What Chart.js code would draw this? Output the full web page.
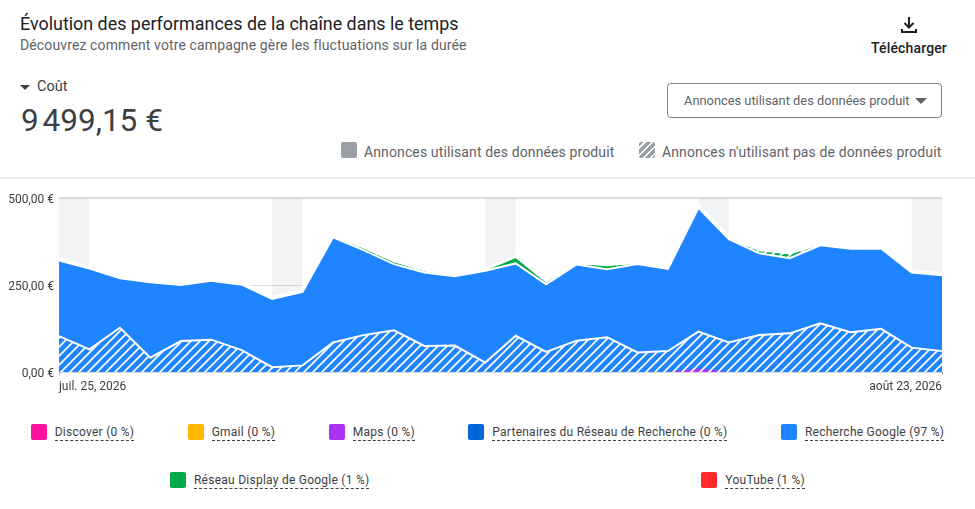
<!DOCTYPE html>
<html lang="fr">
<head>
<meta charset="utf-8">
<title>Évolution des performances</title>
<script src="https://cdn.jsdelivr.net/npm/chart.js@4"></script>
<style>
    html, body { margin: 0; padding: 0; background: #fff; }
    body { position: relative; width: 975px; height: 509px; overflow: hidden; font-family: Roboto, sans-serif; color: #3c4043; }
    .abs { position: absolute; white-space: nowrap; }
    #title { left: 20px; top: 12px; font-size: 17.9px; line-height: 24px; color: #202124; }
    #subtitle { left: 20px; top: 36px; font-size: 14px; line-height: 18px; color: #5f6368; letter-spacing: .12px; }
    #download { left: 860px; top: 15px; width: 98px; text-align: center; }
    #download svg { display: block; margin: 0 auto; }
    #download span { display: block; margin-top: 4px; font-size: 14px; font-weight: 500; line-height: 18px; color: #202124; letter-spacing: .15px; }
    #metricName { left: 37px; top: 78px; font-size: 14.5px; line-height: 18px; color: #3c4043; }
    #metricArrow { left: 20px; top: 85px; width: 0; height: 0; border-left: 5px solid transparent; border-right: 5px solid transparent; border-top: 5px solid #3c4043; }
    #metricValue { left: 21px; top: 100px; font-size: 31.5px; line-height: 42px; color: #3c4043; }
    #dropdown { left: 667px; top: 83px; width: 273px; height: 33px; border: 1px solid #80868b; border-radius: 4px; font-size: 12.85px; line-height: 33px; color: #5f6368; }
    #dropdown span { position: absolute; left: 16px; }
    #dropdown i { position: absolute; left: 247px; top: 14px; width: 0; height: 0; border-left: 6px solid transparent; border-right: 6px solid transparent; border-top: 6px solid #5f6368; }
    .productKey { top: 143px; font-size: 14px; line-height: 18px; color: #5f6368; letter-spacing: .12px; }
    .productKey b { position: absolute; left: -23px; top: -1px; width: 16px; height: 16px; border-radius: 2px; background: #9aa0a6; }
    .productKey b.hatched { background: repeating-linear-gradient(135deg, #9aa0a6 0 3.5px, #fff 3.5px 5px); }
    #divider { left: 0; top: 177px; width: 975px; height: 2px; background: #e8eaed; }
    #chartWrap { left: 0; top: 190px; width: 975px; height: 210px; }
    .legendRow { position: absolute; left: 4px; width: 967px; display: flex; justify-content: space-around; }
    .legendItem { display: flex; align-items: center; font-size: 12px; color: #3c4043; letter-spacing: .25px; white-space: nowrap; }
    .legendItem b { width: 16px; height: 16px; border-radius: 2px; margin-right: 8px; }
    .legendItem span { position: relative; top: 1px; line-height: 15px; border-bottom: 1px dashed #3c4043; }
</style>
</head>
<body>
<div class="abs" id="title">Évolution des performances de la chaîne dans le temps</div>
<div class="abs" id="subtitle">Découvrez comment votre campagne gère les fluctuations sur la durée</div>
<div class="abs" id="download">
    <svg width="20" height="20" viewBox="0 0 20 20"><path d="M10 2v10M5.500 8l4.500 4.500L14.500 8M3 14v3h14v-3" fill="none" stroke="#202124" stroke-width="2"/></svg>
    <span>Télécharger</span>
</div>
<div class="abs" id="metricArrow"></div>
<div class="abs" id="metricName">Coût</div>
<div class="abs" id="metricValue">9&#8239;499,15 €</div>
<div class="abs" id="dropdown"><span>Annonces utilisant des données produit</span><i></i></div>
<div class="abs productKey" style="left:364px"><b></b>Annonces utilisant des données produit</div>
<div class="abs productKey" style="left:662px"><b class="hatched"></b>Annonces n'utilisant pas de données produit</div>
<div class="abs" id="divider"></div>
<div class="abs" id="chartWrap"><canvas id="perfChart" width="975" height="210"></canvas></div>
<div class="legendRow" id="legendTop" style="top:424px"></div>
<div class="legendRow" id="legendBottom" style="top:472px"></div>

<script>
const days = ["juil. 25, 2026", "juil. 26", "juil. 27", "juil. 28", "juil. 29", "juil. 30", "juil. 31",
    "août 1", "août 2", "août 3", "août 4", "août 5", "août 6", "août 7", "août 8", "août 9", "août 10",
    "août 11", "août 12", "août 13", "août 14", "août 15", "août 16", "août 17", "août 18", "août 19",
    "août 20", "août 21", "août 22", "août 23, 2026"];

const yTicks = [0, 250, 500];
const yLabels = ["0,00 €", "250,00 €", "500,00 €"];

// Coût par jour, empilé de bas en haut
const mapsHatched = [0, 0, 0, 0, 0, 0, 0, 0, 0, 0, 0, 0, 0, 0, 0, 0, 0, 0, 0, 0, 0, 10, 0, 0, 0, 0, 0, 0, 0, 0];
const googleHatched = [103, 65, 127, 41, 89, 93, 63, 14, 19, 85, 106, 120, 75, 76, 27, 104, 58, 90, 100, 56, 60, 106, 85, 106, 111, 140, 114, 124, 70, 60];
const googleSolid = [217, 232, 142, 217, 161, 169, 188, 196, 211, 302, 244, 190, 211, 199, 264, 208, 194, 219, 195, 254, 236, 356, 297, 235, 216, 224, 240, 231, 216, 218];
const displaySolid = [0, 0, 0, 0, 0, 0, 0, 0, 0, 0, 4, 5, 2, 0, 0, 15, 4, 0, 9, 0, 0, 0, 0, 0, 0, 0, 0, 0, 0, 0];
const displayHatched = [0, 0, 0, 0, 0, 0, 0, 0, 0, 0, 0, 0, 0, 0, 0, 0, 0, 0, 0, 0, 0, 0, 0, 6, 11, 0, 0, 0, 0, 0];
const youtubeValues = [0, 0, 0, 0, 0, 0, 0, 0, 0, 0, 0, 0, 0, 0, 0, 0, 0, 0, 0, 0, 0, 0, 0, 0, 0, 0, 0, 0, 0, 0];

// Week-ends en fond
const weekendBand = [500, 500, null, null, null, null, null, 500, 500, null, null, null, null, null, 500, 500, null, null, null, null, null, 500, 500, null, null, null, null, null, 500, 500];

const channels = ["Discover (0 %)", "Gmail (0 %)", "Maps (0 %)", "Partenaires du Réseau de Recherche (0 %)", "Recherche Google (97 %)", "Réseau Display de Google (1 %)", "YouTube (1 %)"];
const channelColors = ["#ff139e", "#ffb700", "#a933f5", "#0065d9", "#1e84ff", "#00ac47", "#ff2a2a"];

function hatch(color) {
    const size = 9;
    const tile = document.createElement("canvas");
    tile.width = size;
    tile.height = size;
    const c = tile.getContext("2d");
    c.fillStyle = color;
    c.fillRect(0, 0, size, size);
    c.strokeStyle = "#fff";
    c.lineWidth = 1.7;
    [[-size, size, size, -size], [0, size, size, 0], [0, 2 * size, 2 * size, 0]].forEach(([x1, y1, x2, y2]) => {
        c.beginPath();
        c.moveTo(x1, y1);
        c.lineTo(x2, y2);
        c.stroke();
    });
    return c.createPattern(tile, "repeat");
}

// le plus petit order est le bas de la pile et se dessine par-dessus
function stackLayer(label, data, fill, order, borderWidth) {
    return {
        label,
        data,
        stack: "channels",
        order,
        fill: "origin",
        backgroundColor: fill,
        borderColor: "#fff",
        borderWidth,
        pointRadius: 0,
        tension: 0,
        borderJoinStyle: "miter"
    };
}

new Chart(document.getElementById("perfChart"), {
    type: "line",
    data: {
        labels: days,
        datasets: [
            stackLayer("Maps", mapsHatched, hatch(channelColors[2]), 1, 0),
            stackLayer("Recherche Google hachuré", googleHatched, hatch(channelColors[4]), 2, 2),
            stackLayer("Recherche Google", googleSolid, channelColors[4], 3, 2),
            stackLayer("Réseau Display", displaySolid, channelColors[5], 4, 0),
            stackLayer("Réseau Display hachuré", displayHatched, hatch(channelColors[5]), 5, 0),
            stackLayer("YouTube", youtubeValues, channelColors[6], 6, 6),
            {
                label: "Week-end",
                data: weekendBand,
                stack: "background",
                order: 9,
                fill: "origin",
                backgroundColor: "rgba(30,45,70,0.06)",
                borderWidth: 0,
                pointRadius: 0,
                spanGaps: false
            }
        ]
    },
    options: {
        responsive: false,
        animation: false,
        maintainAspectRatio: false,
        layout: { autoPadding: false, padding: { top: 8, right: 33, left: 0, bottom: 0 } },
        plugins: { legend: { display: false }, tooltip: { enabled: false } },
        scales: {
            x: {
                offset: false,
                afterFit: (axis) => { axis.height = 28; },
                grid: {
                    drawOnChartArea: false,
                    tickLength: 2,
                    tickColor: (ctx) => (ctx.index === 0 || ctx.index === days.length - 1) ? "#80868b" : "transparent"
                },
                border: { display: false },
                ticks: {
                    autoSkip: false,
                    maxRotation: 0,
                    align: "inner",
                    padding: 6,
                    color: "#3c4043",
                    font: { family: "Roboto", size: 12 },
                    callback: (value, i) => (i === 0 || i === days.length - 1) ? days[i] : ""
                }
            },
            y: {
                stacked: true,
                min: 0,
                max: 500,
                afterFit: (axis) => {
                    axis.width = 59;
                    axis.paddingTop = 0;
                    axis.paddingBottom = 0;
                },
                afterBuildTicks: (axis) => { axis.ticks = yTicks.map((value) => ({ value })); },
                grid: {
                    drawTicks: false,
                    color: "#dadce0",
                    lineWidth: (ctx) => ctx.tick && ctx.tick.value === 500 ? 2 : 1
                },
                border: { display: false },
                ticks: {
                    padding: 5,
                    labelOffset: 1.5,
                    color: "#3c4043",
                    font: { family: "Roboto", size: 12 },
                    callback: (value) => yLabels[yTicks.indexOf(value)]
                }
            }
        }
    }
});

function legendItem(i) {
    const item = document.createElement("div");
    item.className = "legendItem";
    const swatch = document.createElement("b");
    swatch.style.background = channelColors[i];
    const text = document.createElement("span");
    text.textContent = channels[i];
    item.appendChild(swatch);
    item.appendChild(text);
    return item;
}

[0, 1, 2, 3, 4].forEach((i) => document.getElementById("legendTop").appendChild(legendItem(i)));
[5, 6].forEach((i) => document.getElementById("legendBottom").appendChild(legendItem(i)));
</script>
</body>
</html>
